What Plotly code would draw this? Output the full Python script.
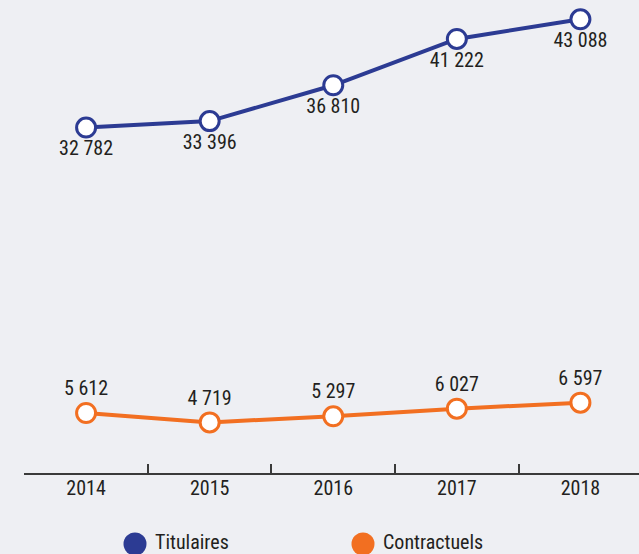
import plotly.graph_objects as go

years = ["2014", "2015", "2016", "2017", "2018"]
titulaires = [32782, 33396, 36810, 41222, 43088]
contractuels = [5612, 4719, 5297, 6027, 6597]
series_names = ["Titulaires", "Contractuels"]

BLUE = "#2c3b93"
ORANGE = "#f26f21"
BG = "#eeeff3"
TXT = "#231f20"
FONT = "Roboto Condensed"
FS = 20

W, H = 639, 554

def fmt(v):
    return f"{v:,}".replace(",", " ")

fig = go.Figure()

for vals, color, pos in [(titulaires, BLUE, "bottom center"), (contractuels, ORANGE, "top center")]:
    fig.add_trace(go.Scatter(
        x=years, y=vals, mode="lines+markers+text",
        line=dict(color=color, width=4),
        marker=dict(size=19, color="white", line=dict(color=color, width=3)),
        text=[fmt(v) for v in vals], textposition=pos,
        textfont=dict(family=FONT, size=FS, color=TXT),
        showlegend=False, cliponaxis=False,
    ))

# custom legend (pixel overlay axes)
fig.add_trace(go.Scatter(
    x=[135, 363], y=[10, 10], mode="markers",
    marker=dict(size=23, color=[BLUE, ORANGE]),
    xaxis="x2", yaxis="y2", showlegend=False, cliponaxis=False,
))
fig.add_trace(go.Scatter(
    x=[155, 383], y=[10, 10], mode="text",
    text=series_names, textposition="middle right",
    textfont=dict(family=FONT, size=FS, color=TXT),
    xaxis="x2", yaxis="y2", showlegend=False, cliponaxis=False,
))

fig.update_layout(
    width=W, height=H,
    margin=dict(l=0, r=0, t=0, b=0),
    paper_bgcolor=BG, plot_bgcolor="rgba(0,0,0,0)",
    showlegend=False,
    font=dict(family=FONT, color=TXT),
    xaxis=dict(
        domain=[24.3 / W, 1], type="category", range=[-0.5, 4.474],
        showgrid=False, zeroline=False,
        showline=True, linecolor="#3a3a3a", linewidth=1.5,
        ticks="inside", ticklen=9, tickwidth=1.5, tickcolor="#3a3a3a",
        tickson="boundaries", ticklabelstandoff=-4,
        tickfont=dict(family=FONT, size=FS, color=TXT),
    ),
    yaxis=dict(
        domain=[81 / H, 1], range=[-100, 44926],
        visible=False, showgrid=False, zeroline=False,
    ),
    xaxis2=dict(domain=[0, 1], range=[0, W], visible=False, anchor="y2"),
    yaxis2=dict(domain=[0, 1], range=[0, H], visible=False, anchor="x2"),
)

fig.write_html("out.html", config={"displayModeBar": False},
               post_script="document.body.style.margin='0';")
